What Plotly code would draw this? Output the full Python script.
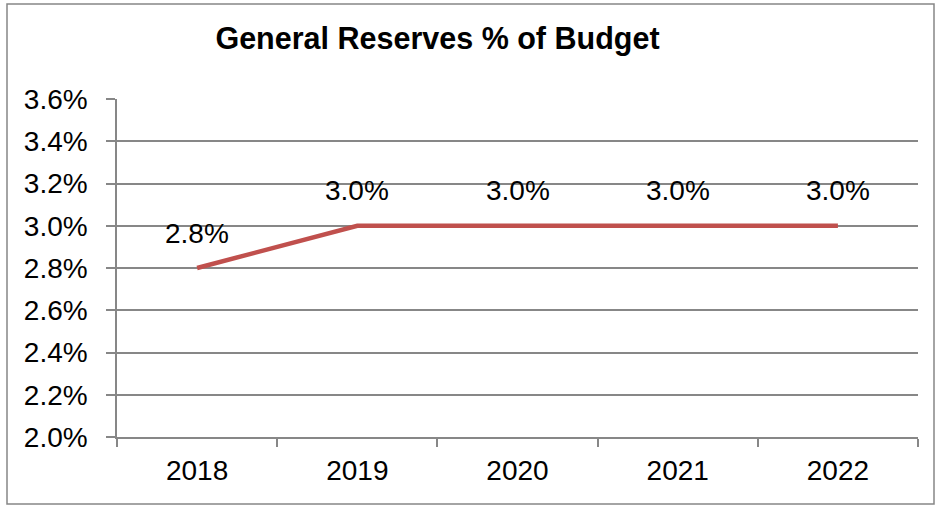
import plotly.graph_objects as go

years = ["2018", "2019", "2020", "2021", "2022"]
reserves = [0.028, 0.030, 0.030, 0.030, 0.030]
labels = ["2.8%", "3.0%", "3.0%", "3.0%", "3.0%"]
title_text = "General Reserves % of Budget"

W, H = 937, 505
L, R, T, B = 117, 19, 99, 68
pw, ph = W - L - R, H - T - B
grid = "#878787"
font = "Liberation Sans, Arial, sans-serif"

fig = go.Figure()
fig.add_trace(go.Scatter(
    x=years, y=reserves, mode="lines",
    line=dict(color="#C0504D", width=4.5),
    hoverinfo="skip", showlegend=False,
))
for i, (yv, t) in enumerate(zip(reserves, labels)):
    fig.add_annotation(x=i, y=yv, xref="x", yref="y", text=t, showarrow=False, yshift=35,
                       font=dict(size=28, color="black", family=font))

def px_x(p):
    return (p - L) / pw

def px_y(p):
    return 1 - (p - T) / ph

fig.add_shape(type="rect", xref="paper", yref="paper",
              x0=px_x(7), x1=px_x(934), y0=px_y(504), y1=px_y(4),
              line=dict(color="#868686", width=1.5), fillcolor="rgba(0,0,0,0)", layer="below")

fig.update_layout(
    width=W, height=H,
    margin=dict(l=L, r=R, t=T, b=B),
    paper_bgcolor="white", plot_bgcolor="white",
    font=dict(family=font, color="black"),
    title=dict(text="<b>" + title_text + "</b>", x=437.5 / W, xanchor="center",
               y=1 - 38 / H, yanchor="middle", yref="container",
               font=dict(size=30.5, color="black", family=font)),
)
fig.update_xaxes(
    type="category", tickson="boundaries", showgrid=False,
    showline=True, linecolor=grid, linewidth=1.5,
    ticks="outside", ticklen=8, tickcolor=grid, tickwidth=1.5,
    tickfont=dict(size=28, color="black"), range=[-0.5, 4.5],
    ticklabelstandoff=8,
)
fig.update_yaxes(
    range=[0.02, 0.036], dtick=0.002, tick0=0.02, tickformat=".1%",
    showgrid=True, gridcolor=grid, gridwidth=1.5,
    showline=True, linecolor=grid, linewidth=1.5,
    ticks="outside", ticklen=9, tickcolor=grid, tickwidth=1.5,
    tickfont=dict(size=28, color="black"), ticklabelstandoff=13, zeroline=False,
)

fig.write_html("out.html")
